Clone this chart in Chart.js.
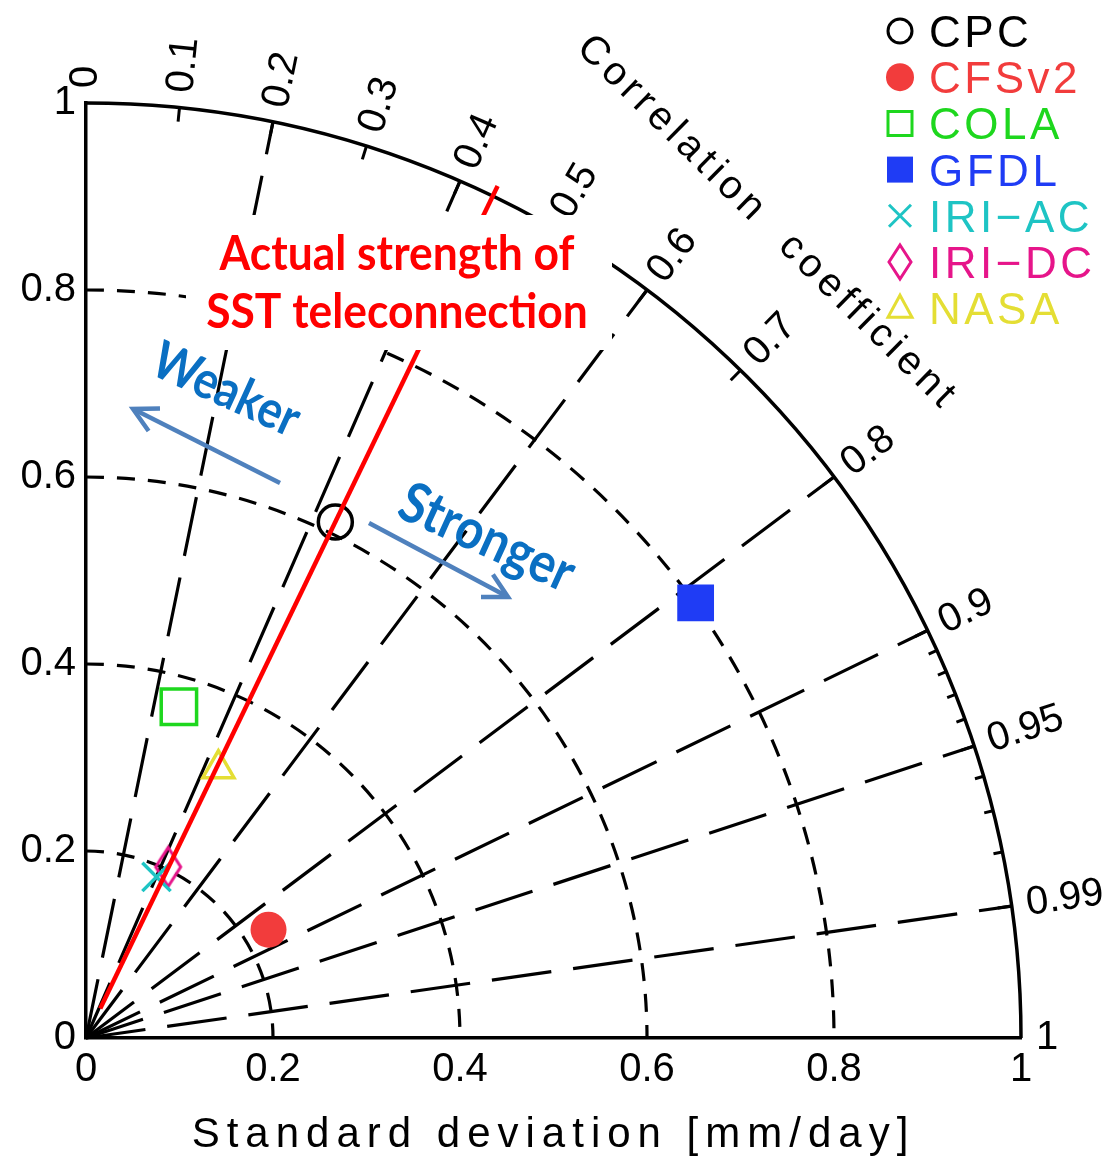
<!DOCTYPE html>
<html>
<head>
<meta charset="utf-8">
<script src="https://cdn.jsdelivr.net/npm/chart.js@4.4.1/dist/chart.umd.min.js"></script>
<style>
  html, body { margin: 0; padding: 0; background: #ffffff; }
  #wrap { width: 1109px; height: 1159px; position: relative; }
</style>
</head>
<body>
<div id="wrap"><canvas id="taylor"></canvas></div>
<script>
// Taylor diagram: radius = standard deviation, angle = correlation coefficient
const models = ['CPC', 'CFSv2', 'COLA', 'GFDL', 'IRI-AC', 'IRI-DC', 'NASA'];
const legendLabels = ['CPC', 'CFSv2', 'COLA', 'GFDL', 'IRI\u2212AC', 'IRI\u2212DC', 'NASA'];
const stdDev = [0.613, 0.227, 0.368, 0.801, 0.188, 0.203, 0.321];
const corr = [0.435, 0.86, 0.27, 0.814, 0.401, 0.433, 0.441];

const stdArcs = [0.2, 0.4, 0.6, 0.8];
const corrLabels = [0, 0.1, 0.2, 0.3, 0.4, 0.5, 0.6, 0.7, 0.8, 0.9, 0.95, 0.99, 1];
const corrRays = [0.2, 0.4, 0.6, 0.8, 0.9, 0.95, 0.99];
const corrMinor = [0.91, 0.92, 0.93, 0.94, 0.96, 0.97, 0.98];

// observed (CPC) correlation marks the "actual strength" line
const observedCorr = corr[0];

const colors = ['#000000', '#f23c3c', '#1ed71e', '#1f3cf5', '#1ec4c4', '#e6158a', '#e4de34'];
const FONT = '"Liberation Sans", Arial, sans-serif';

function diamondImage(w, h, lw, color) {
  const c = document.createElement('canvas');
  c.width = w + lw * 2; c.height = h + lw * 2;
  const g = c.getContext('2d');
  g.strokeStyle = color; g.lineWidth = lw; g.lineJoin = 'miter';
  g.beginPath();
  g.moveTo(c.width / 2, lw);
  g.lineTo(c.width - lw, c.height / 2);
  g.lineTo(c.width / 2, c.height - lw);
  g.lineTo(lw, c.height / 2);
  g.closePath(); g.stroke();
  return c;
}

const pointStyles = ['circle', 'circle', 'rect', 'rect', 'crossRot', diamondImage(25, 39, 3, colors[5]), 'triangle'];
const pointRadii = [17, 18, 25, 26, 20, 20, 18];
const filled = [false, true, false, true, false, false, false];

const datasets = models.map((m, i) => ({
  label: m,
  data: [{ x: stdDev[i] * corr[i], y: stdDev[i] * Math.sqrt(1 - corr[i] * corr[i]) }],
  pointStyle: pointStyles[i],
  pointRadius: pointRadii[i],
  backgroundColor: filled[i] ? colors[i] : 'rgba(0,0,0,0)',
  borderColor: colors[i],
  borderWidth: filled[i] ? 0 : 3.5,
  showLine: false
}));

function fitSize(ctx, text, weight, family, targetW) {
  ctx.font = weight + ' 100px ' + family;
  return 100 * targetW / ctx.measureText(text).width;
}

function drawArrow(ctx, x0, y0, x1, y1) {
  const a = Math.atan2(y0 - y1, x0 - x1);
  const wing = 27, spread = 28 * Math.PI / 180;
  ctx.beginPath();
  ctx.moveTo(x0, y0); ctx.lineTo(x1 + Math.cos(a) * 3, y1 + Math.sin(a) * 3);
  ctx.stroke();
  ctx.beginPath();
  ctx.moveTo(x1 + Math.cos(a + spread) * wing, y1 + Math.sin(a + spread) * wing);
  ctx.lineTo(x1, y1);
  ctx.lineTo(x1 + Math.cos(a - spread) * wing, y1 + Math.sin(a - spread) * wing);
  ctx.stroke();
}

function legendMarker(ctx, i, x, y) {
  const c = colors[i];
  ctx.strokeStyle = c; ctx.fillStyle = c; ctx.lineWidth = 3;
  ctx.setLineDash([]);
  ctx.beginPath();
  switch (i) {
    case 0: ctx.arc(x, y, 12, 0, Math.PI * 2); ctx.stroke(); break;
    case 1: ctx.arc(x, y, 14, 0, Math.PI * 2); ctx.fill(); break;
    case 2: ctx.rect(x - 12, y - 12, 24, 24); ctx.stroke(); break;
    case 3: ctx.rect(x - 13, y - 13, 26, 26); ctx.fill(); break;
    case 4: ctx.moveTo(x - 11, y - 11); ctx.lineTo(x + 11, y + 11);
            ctx.moveTo(x + 11, y - 11); ctx.lineTo(x - 11, y + 11); ctx.stroke(); break;
    case 5: ctx.moveTo(x, y - 17); ctx.lineTo(x + 11, y); ctx.lineTo(x, y + 17); ctx.lineTo(x - 11, y);
            ctx.closePath(); ctx.stroke(); break;
    case 6: ctx.moveTo(x, y - 13); ctx.lineTo(x + 12, y + 9); ctx.lineTo(x - 12, y + 9);
            ctx.closePath(); ctx.stroke(); break;
  }
}

const tickText = v => String(Math.round(v * 10) / 10);

const taylorPlugin = {
  id: 'taylorPlugin',
  beforeDatasetsDraw(chart) {
    const ctx = chart.ctx;
    const xs = chart.scales.x, ys = chart.scales.y;
    const ox = xs.getPixelForValue(0), oy = ys.getPixelForValue(0);
    const R = xs.getPixelForValue(1) - ox;
    ctx.save();
    ctx.strokeStyle = '#000'; ctx.fillStyle = '#000';
    ctx.lineCap = 'butt';

    // standard deviation arcs
    ctx.lineWidth = 3.2;
    ctx.setLineDash([18, 13]);
    stdArcs.forEach(s => {
      ctx.beginPath();
      ctx.arc(ox, oy, s * R, -Math.PI / 2, 0, false);
      ctx.stroke();
    });

    // correlation rays
    ctx.setLineDash([60, 22]);
    corrRays.forEach(c => {
      const t = Math.acos(c);
      ctx.beginPath();
      ctx.moveTo(ox, oy);
      ctx.lineTo(ox + R * Math.cos(t), oy - R * Math.sin(t));
      ctx.stroke();
    });

    // outer arc
    ctx.setLineDash([]);
    ctx.lineWidth = 3.5;
    ctx.beginPath();
    ctx.arc(ox, oy, R, -Math.PI / 2, 0, false);
    ctx.stroke();

    // ticks on the arc
    ctx.lineWidth = 3;
    const tick = (c, len) => {
      const t = Math.acos(c);
      ctx.beginPath();
      ctx.moveTo(ox + R * Math.cos(t), oy - R * Math.sin(t));
      ctx.lineTo(ox + (R - len) * Math.cos(t), oy - (R - len) * Math.sin(t));
      ctx.stroke();
    };
    corrLabels.filter(c => c > 0 && c < 1).forEach(c => tick(c, 14));
    corrMinor.forEach(c => tick(c, 9));

    // correlation labels
    ctx.font = '40px ' + FONT;
    ctx.textAlign = 'left'; ctx.textBaseline = 'middle';
    corrLabels.forEach(c => {
      const t = Math.acos(c);
      ctx.save();
      ctx.translate(ox + (R + 15) * Math.cos(t), oy - (R + 15) * Math.sin(t));
      ctx.rotate(-t);
      ctx.fillText(String(c), 0, 0);
      ctx.restore();
    });

    // correlation title
    ctx.save();
    const ta = 50.1 * Math.PI / 180, tr = 1.136 * R;
    ctx.translate(ox + tr * Math.cos(ta), oy - tr * Math.sin(ta));
    ctx.rotate(44.5 * Math.PI / 180);
    ctx.font = '40px ' + FONT;
    ctx.letterSpacing = '5px';
    ctx.textAlign = 'center'; ctx.textBaseline = 'middle';
    ctx.fillText('Correlation  coefficient', 0, 0);
    ctx.restore();

    // x axis title
    ctx.font = '42px ' + FONT;
    ctx.letterSpacing = '7px';
    ctx.textAlign = 'center'; ctx.textBaseline = 'alphabetic';
    ctx.fillText('Standard deviation [mm/day]', (xs.left + xs.right) / 2, 1147);
    ctx.restore();
  },
  afterDatasetsDraw(chart) {
    const ctx = chart.ctx;
    const xs = chart.scales.x, ys = chart.scales.y;
    const ox = xs.getPixelForValue(0), oy = ys.getPixelForValue(0);
    const R = xs.getPixelForValue(1) - ox;
    ctx.save();

    // observed correlation line
    const t = Math.acos(observedCorr);
    ctx.strokeStyle = '#ff0000'; ctx.lineWidth = 4.5; ctx.setLineDash([]);
    ctx.beginPath();
    ctx.moveTo(ox + 0.035 * R * Math.cos(t), oy - 0.035 * R * Math.sin(t));
    ctx.lineTo(ox + 1.012 * R * Math.cos(t), oy - 1.012 * R * Math.sin(t));
    ctx.stroke();

    // text box
    ctx.fillStyle = '#ffffff';
    ctx.fillRect(186, 215, 426, 135);
    const calloutFont = '"Lato", "Open Sans", sans-serif';
    const size = fitSize(ctx, 'Actual strength of', 'bold', calloutFont, 355);
    ctx.font = 'bold ' + size.toFixed(1) + 'px ' + calloutFont;
    ctx.fillStyle = '#ff0000';
    ctx.textAlign = 'center'; ctx.textBaseline = 'alphabetic';
    ctx.save(); ctx.translate(397, 270); ctx.scale(1, 1.06); ctx.fillText('Actual strength of', 0, 0); ctx.restore();
    ctx.save(); ctx.translate(397, 328); ctx.scale(1, 1.06); ctx.fillText('SST teleconnection', 0, 0); ctx.restore();

    // weaker / stronger arrows
    ctx.strokeStyle = '#4f81bd'; ctx.lineWidth = 4.5; ctx.lineJoin = 'miter';
    drawArrow(ctx, 280, 483, 133, 409);
    drawArrow(ctx, 369, 523, 508, 597);

    ctx.fillStyle = '#0a6fc2';
    ctx.textAlign = 'center'; ctx.textBaseline = 'middle';
    [['Weaker', 226, 390, 156], ['Stronger', 487, 538, 186]].forEach(([txt, x, y, w]) => {
      const fs = fitSize(ctx, txt, 'bold', calloutFont, w);
      ctx.save();
      ctx.translate(x, y);
      ctx.rotate(24.5 * Math.PI / 180);
      ctx.scale(1, 1.15);
      ctx.font = 'bold ' + fs.toFixed(1) + 'px ' + calloutFont;
      ctx.fillText(txt, 0, 0);
      ctx.restore();
    });

    // legend
    ctx.font = '44px ' + FONT;
    ctx.letterSpacing = '3.5px';
    ctx.textAlign = 'left'; ctx.textBaseline = 'alphabetic';
    legendLabels.forEach((lab, i) => {
      const y = 31 + i * 46.2;
      legendMarker(ctx, i, 900, y);
      ctx.fillStyle = colors[i];
      ctx.fillText(lab, 929, y + 16);
    });
    ctx.restore();
  }
};

new Chart(document.getElementById('taylor'), {
  type: 'scatter',
  data: { datasets },
  options: {
    responsive: true,
    maintainAspectRatio: false,
    animation: false,
    events: [],
    layout: { padding: { top: 103, right: 88, left: 0, bottom: 0 } },
    plugins: { legend: { display: false }, tooltip: { enabled: false } },
    scales: {
      x: {
        type: 'linear', min: 0, max: 1, position: 'bottom',
        grid: { display: false, drawTicks: false },
        border: { display: true, color: '#000', width: 3.5 },
        ticks: { stepSize: 0.2, color: '#000', padding: 8, maxRotation: 0, autoSkip: false,
                 font: { family: FONT, size: 40 }, callback: tickText },
        afterFit: s => { s.height = 121; }
      },
      y: {
        type: 'linear', min: 0, max: 1, position: 'left',
        grid: { display: false, drawTicks: false },
        border: { display: true, color: '#000', width: 3.5 },
        ticks: { stepSize: 0.2, color: '#000', padding: 10, autoSkip: false,
                 font: { family: FONT, size: 40 }, callback: tickText },
        afterFit: s => { s.width = 86; }
      }
    }
  },
  plugins: [taylorPlugin]
});
</script>
</body>
</html>
